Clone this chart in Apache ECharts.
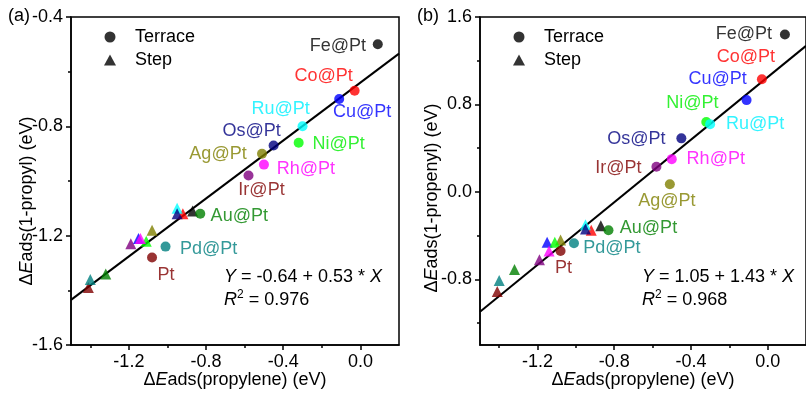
<!DOCTYPE html>
<html>
<head>
<meta charset="utf-8">
<script src="https://cdn.jsdelivr.net/npm/echarts@6/dist/echarts.min.js"></script>
<style>html,body{margin:0;background:#fff}#chart{width:806px;height:394px}</style>
</head>
<body>
<div id="chart"></div>
<script>
// metals, in drawing order
var metals = ['Pt', 'Pd', 'Au', 'Ir', 'Ag', 'Cu', 'Ni', 'Rh', 'Co', 'Ru', 'Os', 'Fe'];
var names = ['Pt', 'Pd@Pt', 'Au@Pt', 'Ir@Pt', 'Ag@Pt', 'Cu@Pt', 'Ni@Pt', 'Rh@Pt', 'Co@Pt', 'Ru@Pt', 'Os@Pt', 'Fe@Pt'];

// terrace: dE(propylene), dE(1-propyl), dE(1-propenyl)
var terraceX  = [-1.08, -1.01, -0.83, -0.58, -0.51, -0.11, -0.32, -0.50, -0.03, -0.30, -0.45, 0.09];
var terraceYa = [-1.28, -1.24, -1.12, -0.98, -0.90, -0.70, -0.86, -0.94, -0.67, -0.80, -0.87, -0.50];
var terraceYb = [-0.54, -0.47, -0.35, 0.23, 0.07, 0.84, 0.64, 0.30, 1.03, 0.62, 0.49, 1.44];

// step
var stepX  = [-1.41, -1.40, -1.32, -1.19, -1.08, -1.15, -1.11, -1.14, -0.92, -0.95, -0.95, -0.87];
var stepYa = [-1.39, -1.36, -1.34, -1.23, -1.18, -1.21, -1.22, -1.21, -1.12, -1.10, -1.12, -1.11];
var stepYb = [-0.91, -0.81, -0.71, -0.62, -0.44, -0.46, -0.46, -0.54, -0.35, -0.30, -0.34, -0.31];

// linear fits  Y = a + b * X
var fitA = [-0.64, 0.53], fitB = [1.05, 1.43];
var r2A = '0.976', r2B = '0.968';

var xRange = [-1.5, 0.2];
var xTicks = [-1.2, -0.8, -0.4, 0.0], xMinor = [-1.4, -1.0, -0.6, -0.2];
var yRangeA = [-1.6, -0.4], yTicksA = [-1.6, -1.2, -0.8, -0.4], yMinorA = [-1.4, -1.0, -0.6];
var yRangeB = [-1.4, 1.6], yTicksB = [-0.8, 0.0, 0.8, 1.6], yMinorB = [-1.2, -0.4, 0.4, 1.2];

// styles
var colors = ['#800000', '#008080', '#008000', '#800080', '#808000', '#0000ff', '#00ff00', '#ff00ff', '#ff0000', '#00ffff', '#000080', '#000000'];
var labelColors = ['#800000', '#008080', '#008000', '#800000', '#808000', '#0000ff', '#00ee00', '#ff00ff', '#ff0000', '#00f0ff', '#000080', '#000000'];
// label centre relative to the dot, px
var offA = [[14,17],[43,2],[39,2],[13,14],[-44,0],[23,13],[40,1],[42,4],[-31,-15],[-22,-17],[-22,-14],[-40,2]];
var offB = [[3,17],[38,5],[40,-2],[-38,1],[-3,17],[-29,-21],[-14,-19],[44,0],[-16,-22],[45,0],[-45,1],[-41,0]];

var FONT = 'Liberation Sans, Arial, sans-serif';
var chart = echarts.init(document.getElementById('chart'));

function fmt(v) { return (Math.abs(v) < 1e-9 ? 0 : v).toFixed(1); }

function axis(grid, range, major, minor, isMinor, name, gap, pad) {
	var a = {
		type: 'value', gridIndex: grid, min: range[0], max: range[1],
		splitLine: {show: false},
		axisLine: {show: !isMinor, onZero: false, lineStyle: {color: '#000', width: 1.5}},
		axisTick: {show: true, inside: false, length: isMinor ? 3 : 5, customValues: isMinor ? minor : major,
			lineStyle: {color: '#000', width: 1.5}},
		axisLabel: {show: !isMinor, customValues: major, formatter: fmt, margin: 8,
			color: '#000', fontSize: 18, fontFamily: FONT}
	};
	if (!isMinor && name) {
		a.name = '{a|Δ}{e|E}{a|ads' + name + ' (eV)}';
		a.nameLocation = 'middle';
		a.nameGap = gap;
		a.nameMoveOverlap = false;
		a.nameTextStyle = {color: '#000', fontSize: 18, fontFamily: FONT, padding: pad || 0,
			rich: {a: {fontSize: 18, fontFamily: FONT, color: '#000'},
				e: {fontSize: 18, fontFamily: FONT, fontStyle: 'italic', color: '#000'}}};
	}
	return a;
}

function fitLine(f) {
	return [[xRange[0], f[0] + f[1] * xRange[0]], [xRange[1], f[0] + f[1] * xRange[1]]];
}

function terraceData(ys, offs) {
	return metals.map(function (m, i) {
		return {
			value: [terraceX[i], ys[i]],
			itemStyle: {color: colors[i]},
			label: {show: true, position: 'inside', formatter: names[i], offset: offs[i],
				color: labelColors[i], fontSize: 18, fontFamily: FONT}
		};
	});
}

function stepData(ys) {
	return metals.map(function (m, i) {
		return {value: [stepX[i], ys[i]], itemStyle: {color: colors[i]}};
	});
}

function panelSeries(xi, f, ys, yt, offs) {
	return [{
		type: 'line', xAxisIndex: xi, yAxisIndex: xi, data: fitLine(f), symbol: 'none', silent: true,
		lineStyle: {color: '#000', width: 2}, z: 1
	}, {
		name: 'Step', type: 'scatter', xAxisIndex: xi, yAxisIndex: xi, symbol: 'triangle', symbolSize: 11,
		itemStyle: {color: '#000'}, data: stepData(yt), z: 2
	}, {
		name: 'Terrace', type: 'scatter', xAxisIndex: xi, yAxisIndex: xi, symbol: 'circle', symbolSize: 10,
		itemStyle: {color: '#000'}, data: terraceData(ys, offs), z: 3
	}];
}

function legend(left) {
	return {
		left: left, top: 28, orient: 'vertical', itemWidth: 12, itemHeight: 11, itemGap: 5, padding: 0,
		selectedMode: false,
		data: [{name: 'Terrace', icon: 'circle'}, {name: 'Step', icon: 'triangle'}],
		textStyle: {fontSize: 18, color: '#000', fontFamily: FONT, padding: [0, 0, 0, 14]}
	};
}

function eqText(left, f, r2) {
	var s = f[1] >= 0 ? ' + ' : ' - ';
	return [{
		type: 'text', left: left, top: 268,
		style: {text: '{i|Y} = ' + f[0].toFixed(2) + s + Math.abs(f[1]).toFixed(2) + ' * {i|X}',
			fontSize: 18, fontFamily: FONT, fill: '#000',
			rich: {i: {fontStyle: 'italic', fontSize: 18, fontFamily: FONT}}}
	}, {
		type: 'text', left: left, top: 289,
		style: {text: '{i|R}{s|2} = ' + r2, fontSize: 18, fontFamily: FONT, fill: '#000',
			rich: {i: {fontStyle: 'italic', fontSize: 18, fontFamily: FONT},
				s: {fontSize: 12, fontFamily: FONT, padding: [0, 0, 10, 0]}}}
	}];
}

var option = {
	animation: false,
	backgroundColor: '#fff',
	title: [
		{text: '(a)', left: 8, top: 7, padding: 0, textStyle: {fontSize: 18, fontWeight: 'normal', color: '#000', fontFamily: FONT}},
		{text: '(b)', left: 417, top: 7, padding: 0, textStyle: {fontSize: 18, fontWeight: 'normal', color: '#000', fontFamily: FONT}}
	],
	grid: [
		{left: 71, top: 17, width: 328, height: 328, show: true, borderColor: '#000', borderWidth: 1.5},
		{left: 480, top: 17, width: 328, height: 328, show: true, borderColor: '#000', borderWidth: 1.5}
	],
	legend: [legend(104), legend(513)],
	xAxis: [
		axis(0, xRange, xTicks, xMinor, false, '(propylene)', 26),
		axis(0, xRange, xTicks, xMinor, true),
		axis(1, xRange, xTicks, xMinor, false, '(propylene)', 26),
		axis(1, xRange, xTicks, xMinor, true)
	],
	yAxis: [
		axis(0, yRangeA, yTicksA, yMinorA, false, '(1-propyl)', 35, [0, 40, 0, 0]),
		axis(0, yRangeA, yTicksA, yMinorA, true),
		axis(1, yRangeB, yTicksB, yMinorB, false, '(1-propenyl)', 39, [0, 34, 0, 0]),
		axis(1, yRangeB, yTicksB, yMinorB, true)
	],
	graphic: eqText(224, fitA, r2A).concat(eqText(642, fitB, r2B)),
	series: panelSeries(0, fitA, terraceYa, stepYa, offA).concat(panelSeries(2, fitB, terraceYb, stepYb, offB))
};
option.xAxis.forEach(function (a) { a.position = 'bottom'; });
option.yAxis.forEach(function (a) { a.position = 'left'; });

chart.setOption(option);
</script>
</body>
</html>
